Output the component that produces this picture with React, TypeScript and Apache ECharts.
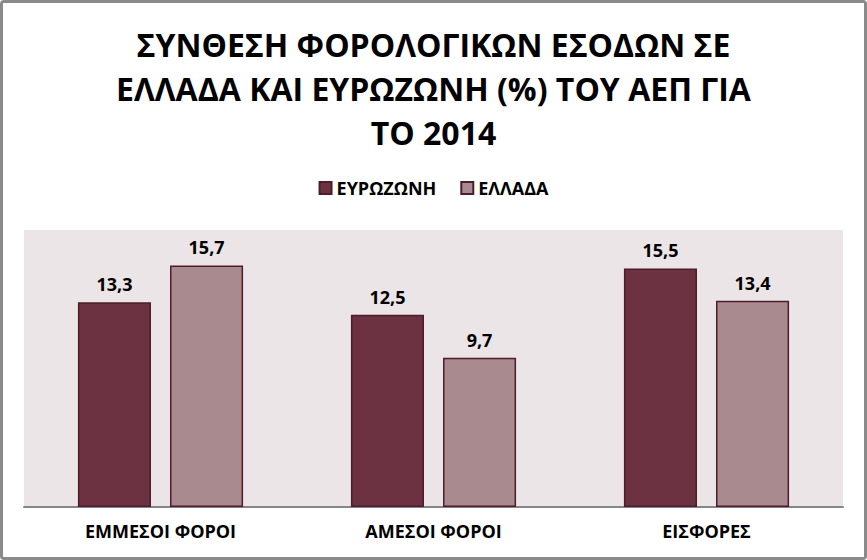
import React, { useEffect, useRef } from "react";
import * as echarts from "echarts";

const categories = ["ΕΜΜΕΣΟΙ ΦΟΡΟΙ", "ΑΜΕΣΟΙ ΦΟΡΟΙ", "ΕΙΣΦΟΡΕΣ"];
const eurozone = [13.3, 12.5, 15.5];
const greece = [15.7, 9.7, 13.4];
const seriesNames = ["ΕΥΡΩΖΩΝΗ", "ΕΛΛΑΔΑ"];
const titleText = "ΣΥΝΘΕΣΗ ΦΟΡΟΛΟΓΙΚΩΝ ΕΣΟΔΩΝ ΣΕ\nΕΛΛΑΔΑ ΚΑΙ ΕΥΡΩΖΩΝΗ (%) ΤΟΥ ΑΕΠ ΓΙΑ\nΤΟ 2014";

const FONT = "'Open Sans', sans-serif";

export default function App() {
  const ref = useRef<HTMLDivElement>(null);
  useEffect(() => {
    if (!ref.current) return;
    const chart = echarts.init(ref.current, undefined, { renderer: "svg" });
    const label = {
      show: true,
      position: "top",
      distance: 9,
      color: "#000",
      fontFamily: FONT,
      fontWeight: "bold",
      fontSize: 18,
      formatter: (p: any) => String(p.value).replace(".", ","),
    };
    chart.setOption({
      animation: false,
      backgroundColor: "#fff",
      title: {
        text: titleText,
        left: "center",
        top: 14,
        textStyle: {
          fontFamily: FONT,
          fontWeight: "bold",
          fontSize: 32,
          lineHeight: 44,
          color: "#000",
        },
      },
      legend: {
        top: 171,
        left: "center",
        itemWidth: 12,
        itemHeight: 12,
        itemGap: 24,
        icon: "rect",
        textStyle: { fontFamily: FONT, fontWeight: "bold", fontSize: 18, color: "#000" },
        data: seriesNames,
      },
      grid: {
        left: 21,
        right: 21,
        top: 227,
        bottom: 50,
        show: true,
        backgroundColor: "#EBE5E8",
        borderWidth: 0,
      },
      xAxis: {
        type: "category",
        data: categories,
        axisLine: { lineStyle: { color: "#868686", width: 2 } },
        axisTick: { show: false },
        axisLabel: {
          margin: 15,
          fontFamily: FONT,
          fontWeight: "bold",
          fontSize: 18,
          color: "#000",
        },
      },
      yAxis: {
        type: "value",
        min: 0,
        max: 18,
        show: false,
        splitLine: { show: false },
      },
      series: [
        {
          name: seriesNames[0],
          type: "bar",
          data: eurozone,
          barGap: "26%",
          barCategoryGap: "39.5%",
          itemStyle: { color: "#6D3241", borderColor: "#4E1C2A", borderWidth: 1.5 },
          label,
        },
        {
          name: seriesNames[1],
          type: "bar",
          data: greece,
          itemStyle: { color: "#A98A8F", borderColor: "#4E1C2A", borderWidth: 1.5 },
          label,
        },
      ],
    });
    return () => chart.dispose();
  }, []);
  return (
    <div
      style={{
        position: "fixed",
        left: 0,
        top: 0,
        width: 867,
        height: 560,
        boxSizing: "border-box",
        border: "3px solid #8a8a8a",
        borderRadius: 4,
        overflow: "hidden",
        background: "#fff",
      }}
    >
      <div ref={ref} style={{ width: 861, height: 554 }} />
    </div>
  );
}
